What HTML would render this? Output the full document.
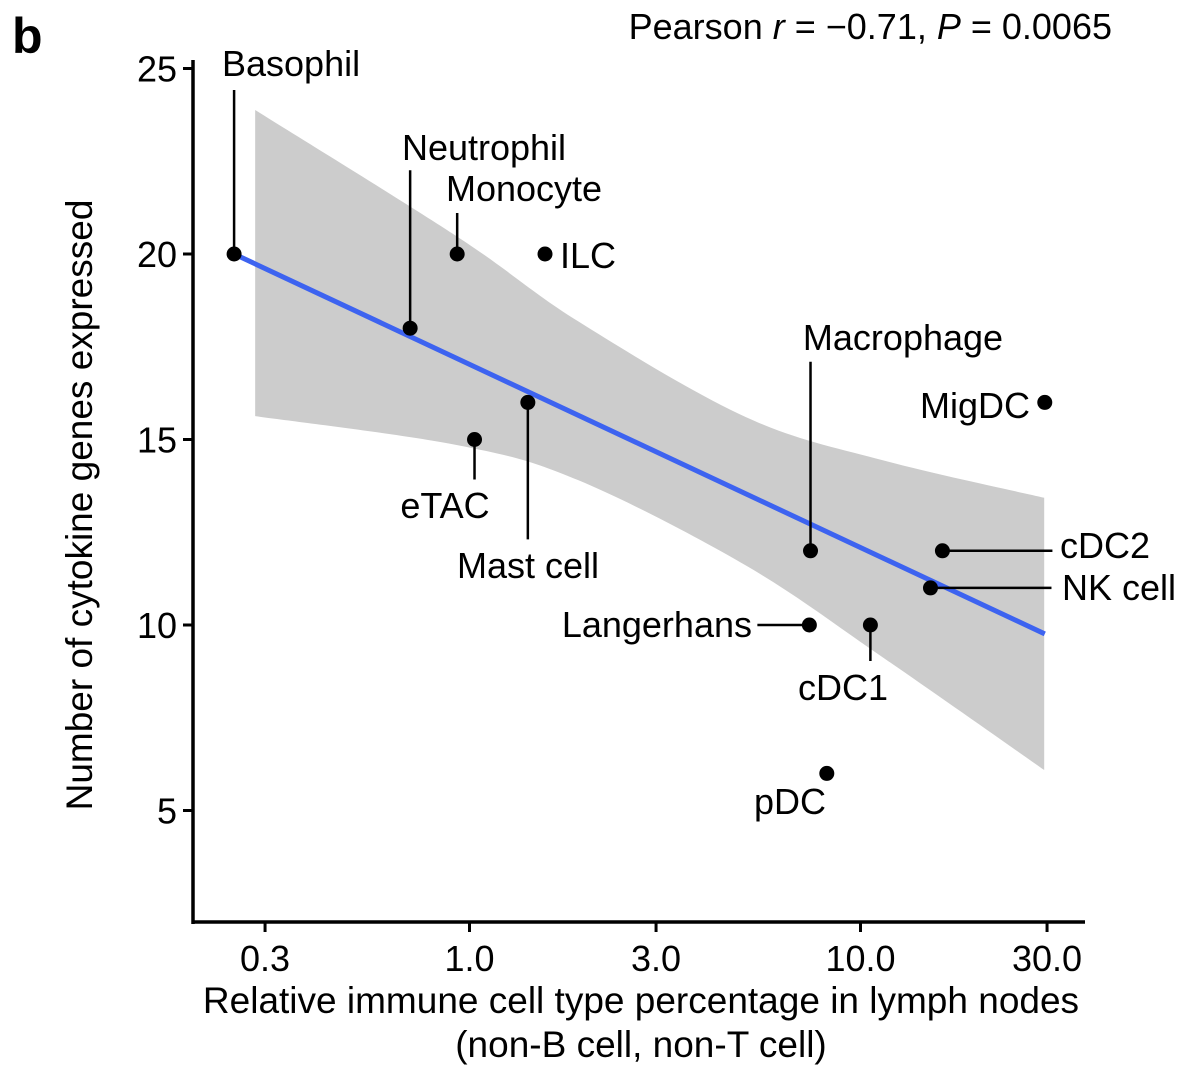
<!DOCTYPE html>
<html><head><meta charset="utf-8"><style>
html,body{margin:0;padding:0;background:#fff}
svg{display:block;font-family:"Liberation Sans",Arial,sans-serif}
</style></head><body>
<svg id="chart" width="1200" height="1086" viewBox="0 0 1200 1086">
<text x="12" y="53" font-size="50" font-weight="bold">b</text>
<text x="1112" y="39" font-size="36" text-anchor="end">Pearson <tspan font-style="italic">r</tspan> = −0.71, <tspan font-style="italic">P</tspan> = 0.0065</text>
<g id="band"></g><g id="fit"></g><g id="leaders"></g><g id="points"></g><g id="labels"></g><g id="axes"></g>
<text x="641" y="1013" font-size="37" text-anchor="middle">Relative immune cell type percentage in lymph nodes</text>
<text x="641" y="1057" font-size="37" text-anchor="middle">(non-B cell, non-T cell)</text>
<text transform="translate(92,505) rotate(-90)" font-size="37" text-anchor="middle">Number of cytokine genes expressed</text>
</svg>
<script>
const cellNames=["Basophil","Neutrophil","Monocyte","ILC","eTAC","Mast cell","Macrophage","MigDC","cDC2","NK cell","Langerhans","cDC1","pDC"];
const pctValues=[0.25,0.705,0.93,1.56,1.03,1.41,7.45,29.6,16.2,15.1,7.4,10.6,8.2];
const geneCounts=[20,18,20,20,15,16,12,16,12,11,10,10,6];
const fitX=[0.25,29.6];
const fitY=[20,9.76];
const bandX=[0.283,0.93,1.9,5.1,11.5,29.5];
const bandUpper=[23.88,20.47,18.18,15.6,14.43,13.43];
const bandLower=[15.63,14.85,13.9,11.6,9.1,6.09];
const xTicks=[0.3,1,3,10,30];
const xTickLabels=["0.3","1.0","3.0","10.0","30.0"];
const yTicks=[5,10,15,20,25];

const ns="http://www.w3.org/2000/svg";
const X=v=>469.5+Math.log10(v)*391;
const Y=v=>254+(20-v)*37.1;
function mk(tag,attrs,parent){const e=document.createElementNS(ns,tag);for(const k in attrs)e.setAttribute(k,attrs[k]);document.getElementById(parent).appendChild(e);return e;}
function smooth(pts){let d="M"+pts[0][0]+","+pts[0][1];for(let i=0;i<pts.length-1;i++){const p0=pts[Math.max(i-1,0)],p1=pts[i],p2=pts[i+1],p3=pts[Math.min(i+2,pts.length-1)];d+=" C"+(p1[0]+(p2[0]-p0[0])/6)+","+(p1[1]+(p2[1]-p0[1])/6)+" "+(p2[0]-(p3[0]-p1[0])/6)+","+(p2[1]-(p3[1]-p1[1])/6)+" "+p2[0]+","+p2[1];}return d;}
const up=bandX.map((x,i)=>[X(x),Y(bandUpper[i])]);
const lo=bandX.map((x,i)=>[X(x),Y(bandLower[i])]).reverse();
let bd=smooth(up)+" L"+lo[0][0]+","+lo[0][1]+smooth(lo).replace(/^M[^ ]+/,"")+" Z";
const band=mk("path",{d:bd,fill:"#cccccc"},"band");


const fl=mk("line",{x1:X(fitX[0]),y1:Y(fitY[0]),x2:X(fitX[1]),y2:Y(fitY[1]),stroke:"#3d63f0","stroke-width":5},"fit");


const layout={
"Basophil":[222,76,"start",[0,-164]],
"Neutrophil":[484,160,"middle",[0,-158]],
"Monocyte":[524,201,"middle",[0,-41]],
"ILC":[560,268,"start",null],
"eTAC":[445,518,"middle",[0,40]],
"Mast cell":[528,578,"middle",[0,137]],
"Macrophage":[903,350,"middle",[0,-189]],
"MigDC":[1030,418,"end",null],
"cDC2":[1060,558,"start",[110,0]],
"NK cell":[1062,600,"start",[121,0]],
"Langerhans":[752,637,"end",[-52,0]],
"cDC1":[843,700,"middle",[0,36]],
"pDC":[826,814,"end",null]};
cellNames.forEach((n,i)=>{
 const px=X(pctValues[i]),py=Y(geneCounts[i]);const L=layout[n];
 if(L[3]){const ln=mk("line",{x1:px,y1:py,x2:px+L[3][0],y2:py+L[3][1],stroke:"#000","stroke-width":2.5},"leaders");
 
 }
 const c=mk("circle",{cx:px,cy:py,r:7.5,fill:"#000"},"points");
 
 
 const t=mk("text",{x:L[0],y:L[1],"font-size":36,"text-anchor":L[2]},"labels");t.textContent=n;
 
 
});
const ya=mk("line",{x1:193,y1:60,x2:193,y2:924,stroke:"#000","stroke-width":3.5},"axes");


const xa=mk("line",{x1:191.5,y1:922,x2:1085,y2:922,stroke:"#000","stroke-width":3.5},"axes");


yTicks.forEach(v=>{const y=Y(v);
 const tk=mk("line",{x1:183,y1:y,x2:193,y2:y,stroke:"#000","stroke-width":3},"axes");
 
 
 const t=mk("text",{x:177,y:y+13,"font-size":36,"text-anchor":"end"},"axes");t.textContent=v;
 
 });
xTicks.forEach((v,i)=>{const x=X(v);
 const tk=mk("line",{x1:x,y1:922,x2:x,y2:932,stroke:"#000","stroke-width":3},"axes");
 
 
 const t=mk("text",{x:x,y:971,"font-size":36,"text-anchor":"middle"},"axes");t.textContent=xTickLabels[i];
 
 });
</script>
</body></html>
